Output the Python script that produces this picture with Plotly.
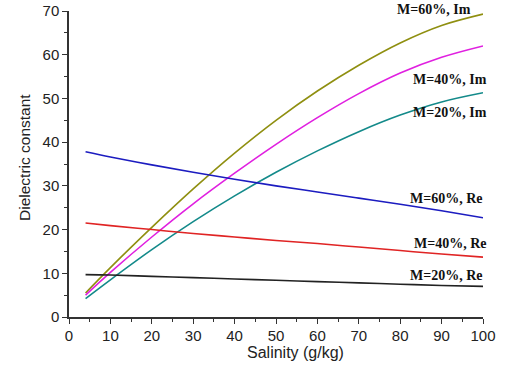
import plotly.graph_objects as go

salinity = [4, 10, 20, 30, 40, 50, 60, 70, 80, 90, 100]

im_60 = [5.5, 11.3, 20.5, 29.3, 37.5, 45.0, 51.7, 57.6, 62.7, 66.7, 69.3]
im_40 = [5.0, 10.2, 18.3, 25.9, 32.9, 39.5, 45.6, 51.1, 55.8, 59.4, 62.0]
im_20 = [4.2, 8.5, 15.4, 21.8, 27.7, 33.1, 38.0, 42.4, 46.2, 49.2, 51.3]
re_60 = [37.8, 36.6, 34.8, 33.1, 31.5, 30.0, 28.6, 27.2, 25.8, 24.3, 22.7]
re_40 = [21.5, 20.9, 20.0, 19.1, 18.3, 17.5, 16.8, 16.0, 15.2, 14.4, 13.7]
re_20 = [9.7, 9.6, 9.3, 9.0, 8.7, 8.4, 8.1, 7.8, 7.5, 7.2, 7.0]

series = [
    ("M=60%, Im", im_60, "#8f8f10"),
    ("M=40%, Im", im_40, "#e020e0"),
    ("M=20%, Im", im_20, "#138a8a"),
    ("M=60%, Re", re_60, "#1c1cc0"),
    ("M=40%, Re", re_40, "#e02424"),
    ("M=20%, Re", re_20, "#222222"),
]

W, H = 509, 366
ML, MR, MT, MB = 69, 26, 11, 49
PW, PH = W - ML - MR, H - MT - MB
X_MAX = 100.0
Y_MAX = 70.0
# label positions (x right edge, y center) in data units
label_pos = {
    "M=60%, Im": (97.5, 70.4),
    "M=40%, Im": (101.5, 54.4),
    "M=20%, Im": (101.5, 46.8),
    "M=60%, Re": (100.5, 27.2),
    "M=40%, Re": (101.5, 16.9),
    "M=20%, Re": (100.5, 9.6),
}

fig = go.Figure()
for name, ys, col in series:
    fig.add_trace(go.Scatter(x=salinity, y=ys, mode="lines", name=name,
                             line=dict(color=col, width=1.6, shape="spline", smoothing=1.0),
                             showlegend=False))
    lx, ly = label_pos[name]
    fig.add_annotation(x=lx / X_MAX, y=ly / Y_MAX, xref="paper", yref="paper",
                       text="<b>%s</b>" % name,
                       showarrow=False, xanchor="right", yanchor="middle",
                       font=dict(family="Liberation Serif", size=14, color="#111111"))

# axis titles as annotations (positioned like the reference)
fig.add_annotation(text="Salinity (g/kg)", xref="paper", yref="paper",
                   x=(295 - ML) / PW, y=-(352 - (H - MB)) / PH,
                   xanchor="center", yanchor="middle", showarrow=False,
                   font=dict(family="Liberation Sans", size=16, color="#222222"))
fig.add_annotation(text="Dielectric constant", xref="paper", yref="paper",
                   x=(24 - ML) / PW, y=((H - MB) - 158) / PH,
                   xanchor="center", yanchor="middle", showarrow=False, textangle=-90,
                   font=dict(family="Liberation Sans", size=15.5, color="#222222"))

axis_common = dict(
    showline=True, linecolor="#333333", linewidth=1.5, mirror=False, automargin=False,
    showgrid=False, zeroline=False, ticks="outside", ticklen=5, tickwidth=1.2,
    tickcolor="#333333",
    tickfont=dict(family="Liberation Sans", size=15, color="#222222"),
    minor=dict(ticks="outside", ticklen=3, tickwidth=1, tickcolor="#333333", showgrid=False),
)

fig.update_layout(
    template="none",
    width=W, height=H,
    margin=dict(l=ML, r=MR, t=MT, b=MB, pad=0),
    paper_bgcolor="white", plot_bgcolor="white",
    xaxis=dict(range=[0, 100], dtick=10, **axis_common),
    yaxis=dict(range=[0, 70], dtick=10, **axis_common),
)
fig.update_xaxes(minor_dtick=5, ticklabelstandoff=-1)
fig.update_yaxes(minor_dtick=5)

fig.write_html("out.html")
